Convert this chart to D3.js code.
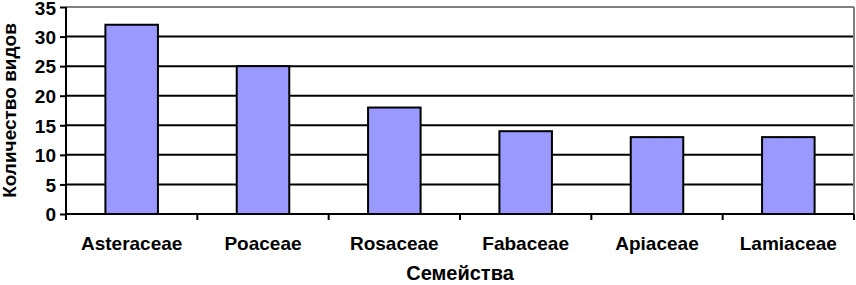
<!DOCTYPE html>
<html>
<head>
<meta charset="utf-8">
<script src="https://cdn.jsdelivr.net/npm/d3@7"></script>
<style>
  body { margin: 0; background: #fff; }
  text { font-family: "Liberation Sans", Arial, sans-serif; font-weight: bold; fill: #000; }
</style>
</head>
<body>
<div id="chart"></div>
<script>
const families = ['Asteraceae', 'Poaceae', 'Rosaceae', 'Fabaceae', 'Apiaceae', 'Lamiaceae']
const speciesCount = [32, 25, 18, 14, 13, 13]
const yTicks = [0, 5, 10, 15, 20, 25, 30, 35]
const xTitle = 'Семейства'
const yTitle = 'Количество видов'

const width = 856, height = 285
const padding = { left: 66, top: 7, right: 2, bottom: 71 }
const plotW = width - padding.left - padding.right
const plotH = height - padding.top - padding.bottom

const x = d3.scaleBand().domain(families).range([0, plotW]).paddingInner(0.6).paddingOuter(0.3)
const y = d3.scaleLinear().domain([0, 35]).range([plotH, 0])

const svg = d3.select('#chart').append('svg')
    .attr('width', width)
    .attr('height', height)

const g = svg.append('g').attr('transform', `translate(${padding.left}, ${padding.top})`)

// grid lines
g.selectAll('.grid').data(yTicks.filter(d => d > 0 && d < 35)).enter().append('line')
    .attr('x1', 0).attr('x2', plotW)
    .attr('y1', d => y(d)).attr('y2', d => y(d))
    .attr('stroke', '#000').attr('stroke-width', 2)

// frame top/right
g.append('line').attr('x1', 0).attr('x2', plotW).attr('y1', y(35)).attr('y2', y(35))
    .attr('stroke', '#808080').attr('stroke-width', 2)
g.append('line').attr('x1', plotW).attr('x2', plotW).attr('y1', y(35)).attr('y2', y(0))
    .attr('stroke', '#808080').attr('stroke-width', 2)

// bars
g.selectAll('.bar').data(speciesCount).enter().append('rect')
    .attr('x', (d, i) => x(families[i]))
    .attr('y', d => y(d))
    .attr('width', x.bandwidth())
    .attr('height', d => plotH - y(d))
    .attr('fill', '#9999FF')
    .attr('stroke', '#000')
    .attr('stroke-width', 2)

// y axis
const yAxis = d3.axisLeft(y).tickValues(yTicks).tickSize(6).tickPadding(4)
const yAxisG = g.append('g').call(yAxis)
yAxisG.select('.domain').attr('stroke', '#000').attr('stroke-width', 2).attr('d', `M0,${y(35)}V${y(0)}`)
yAxisG.selectAll('line').attr('stroke', '#000').attr('stroke-width', 2)
yAxisG.selectAll('text').style('font-size', '19px').attr('font-family', null)
    .attr('dy', d => d === 35 ? '0.42em' : '0.36em')

// x axis (ticks at category boundaries)
const step = x.step()
const boundaries = d3.range(families.length + 1).map(i => i * step)
g.append('line').attr('x1', 0).attr('x2', plotW).attr('y1', plotH).attr('y2', plotH)
    .attr('stroke', '#000').attr('stroke-width', 2)
g.selectAll('.xtick').data(boundaries).enter().append('line')
    .attr('x1', d => d).attr('x2', d => d)
    .attr('y1', plotH).attr('y2', plotH + 6)
    .attr('stroke', '#000').attr('stroke-width', 2)
g.selectAll('.xlabel').data(families).enter().append('text')
    .attr('x', d => x(d) + x.bandwidth() / 2)
    .attr('y', plotH + 36)
    .attr('text-anchor', 'middle')
    .style('font-size', '19px')
    .text(d => d)

// titles
svg.append('text')
    .attr('x', padding.left + plotW / 2)
    .attr('y', 280)
    .attr('text-anchor', 'middle')
    .style('font-size', '20px')
    .text(xTitle)

svg.append('text')
    .attr('transform', `translate(16, ${padding.top + plotH / 2}) rotate(-90)`)
    .attr('text-anchor', 'middle')
    .style('font-size', '19px')
    .text(yTitle)
</script>
</body>
</html>
